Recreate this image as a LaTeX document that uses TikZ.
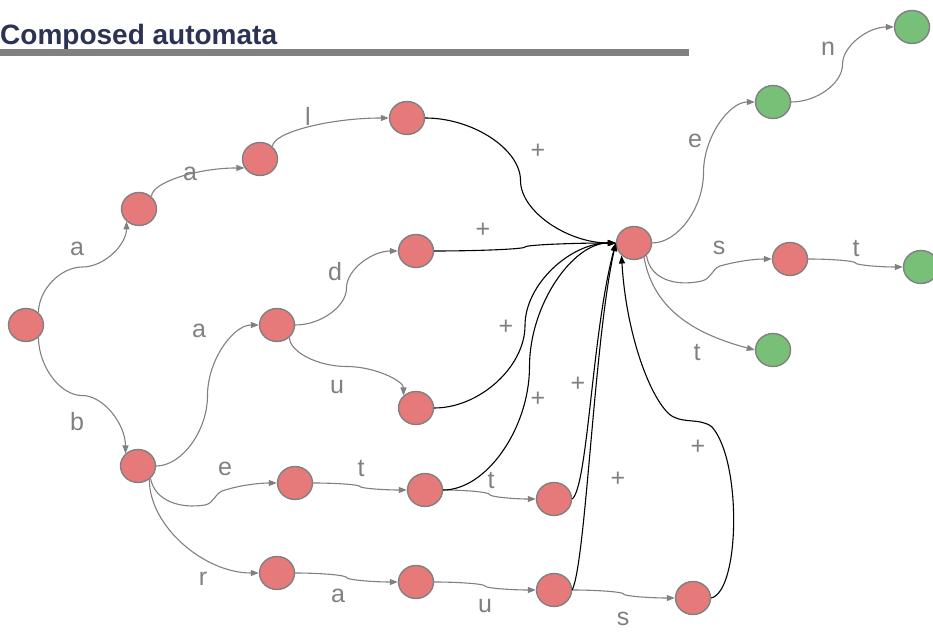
\documentclass[tikz,border=0pt]{standalone}
\usepackage{fontspec}
\setmainfont{Liberation Sans}
\usetikzlibrary{shapes.geometric,arrows.meta,calc}

\definecolor{redfill}{RGB}{230,122,122}
\definecolor{greenfill}{RGB}{120,192,120}
\definecolor{rimgray}{RGB}{128,128,128}
\definecolor{edgegray}{RGB}{128,128,128}
\definecolor{titleblue}{RGB}{44,50,84}
\definecolor{bargray}{RGB}{128,128,128}

\tikzset{
  state/.style={ellipse, draw=rimgray, line width=1.4pt,
    minimum width=35pt, minimum height=33pt, inner sep=0pt},
  rs/.style={state, fill=redfill},
  gs/.style={state, fill=greenfill},
  tip/.style={-{Triangle[length=8pt,width=6pt]}},
  gedge/.style={draw=edgegray, line width=1.1pt, tip},
  bedge/.style={draw=black, line width=1.1pt, tip},
  lbl/.style={text=edgegray, font=\fontsize{25}{25}\selectfont, inner sep=0pt},
  % horizontal start and end, vertical turn half way
  hh/.style={to path={let \p1=(\tikztostart), \p2=(\tikztotarget) in
    .. controls ({(3*\x1+\x2)/4},\y1) and ({(\x1+\x2)/2},{(3*\y1+\y2)/4})
    .. ({(\x1+\x2)/2},{(\y1+\y2)/2})
    .. controls ({(\x1+\x2)/2},{(\y1+3*\y2)/4}) and ({(\x1+3*\x2)/4},\y2)
    .. (\tikztotarget) \tikztonodes}},
  % vertical start and end, horizontal turn half way
  vv/.style={to path={let \p1=(\tikztostart), \p2=(\tikztotarget) in
    .. controls (\x1,{(3*\y1+\y2)/4}) and ({(3*\x1+\x2)/4},{(\y1+\y2)/2})
    .. ({(\x1+\x2)/2},{(\y1+\y2)/2})
    .. controls ({(\x1+3*\x2)/4},{(\y1+\y2)/2}) and (\x2,{(\y1+3*\y2)/4})
    .. (\tikztotarget) \tikztonodes}},
  % vertical start, horizontal end
  vh/.style={to path={let \p1=(\tikztostart), \p2=(\tikztotarget) in
    .. controls (\x1,{(\y1+\y2)/2}) and ({(\x1+\x2)/2},\y2)
    .. (\tikztotarget) \tikztonodes}},
}

\begin{document}
\begin{tikzpicture}[x=1pt,y=1pt]
\useasboundingbox (0,0) rectangle (933,631);

% heading
\node[anchor=base west, inner sep=0pt, text=titleblue,
  font=\bfseries\fontsize{28}{30}\selectfont] (title) at (0,586) {Composed automata};
\fill[bargray] (0,575) rectangle (689,582);

% states
\node[rs] (n0) at (26,306) {};
\node[rs] (A1) at (139,422) {};
\node[rs] (A2) at (260,472) {};
\node[rs] (A3) at (407,513) {};
\node[rs] (B)  at (138,165) {};
\node[rs] (C)  at (277,306) {};
\node[rs] (D)  at (416,380) {};
\node[rs] (U)  at (416,223) {};
\node[rs] (E)  at (295,148) {};
\node[rs] (T1) at (425,141) {};
\node[rs] (T2) at (554,132) {};
\node[rs] (R)  at (277,58) {};
\node[rs] (RA) at (416,49) {};
\node[rs] (RU) at (554,41) {};
\node[rs] (RS) at (693,33) {};
\node[rs] (H)  at (634,388) {};
\node[gs] (G1) at (773,529) {};
\node[gs] (G2) at (912,604) {};
\node[rs] (S)  at (790,372) {};
\node[gs] (G3) at (921,364) {};
\node[gs] (G4) at (773,281) {};

% letter transitions
\draw[gedge] (n0.45) to[vv] (A1.225);
\draw[gedge] (n0.-45) to[vv] (B.135);
\draw[gedge] (A1.45) to[vh] (A2.210);
\draw[gedge] (A2.45) to[vh] (A3.west);
\draw[gedge] (B.east) to[hh] (C.west);
\draw[gedge] (C.east) to[hh] (D.west);
\draw[gedge] (C.-45) to[vv] (U.135);
\draw[gedge] (B.-45) .. controls (155,130) and (180,122) .. (205,126)
  .. controls (214,128) and (214,136) .. (222,140)
  .. controls (240,146) and (260,148) .. (E.west);
\draw[gedge] (B.-50) to[vh] (R.west);
\draw[gedge] (E.east) to[hh] (T1.west);
\draw[gedge] (T1.east) to[hh] (T2.west);
\draw[gedge] (R.east) to[hh] (RA.west);
\draw[gedge] (RA.east) to[hh] (RU.west);
\draw[gedge] (RU.east) to[hh] (RS.west);
\draw[gedge] (H.east) to[hh] (G1.west);
\draw[gedge] (G1.east) to[hh] (G2.west);
\draw[gedge] (H.-45) .. controls (650,352) and (675,344) .. (702,350)
  .. controls (712,353) and (711,361) .. (720,365)
  .. controls (738,370) and (755,372) .. (S.west);
\draw[gedge] (S.east) to[hh] (G3.west);
\draw[gedge] (H.-55) to[out=-80,in=165] (G4.west);

% "+" transitions into the shared state
\draw[bedge] (A3.east) to[hh] (H.west);
\draw[bedge] (D.east) to[hh] (H.west);
\draw[bedge] (U.east) to[hh] (H.west);
\draw[bedge] (T1.east) to[hh] (H.west);
\draw[bedge] (T2.east) .. controls (588,145) and (592,300) .. (H.west);
\draw[bedge] (RU.east) .. controls (586,70) and (594,290) .. (H.west);
\draw[bedge] (RS.east) .. controls (740,40) and (742,170) .. (712,204)
  .. controls (700,214) and (680,206) .. (668,218)
  .. controls (648,238) and (626,300) .. (H.225);

% labels
\node[lbl] (la1) at (77,382) {a};
\node[lbl] (lb)  at (77,209) {b};
\node[lbl] (la2) at (190,457) {a};
\node[lbl] (ll)  at (308,515) {l};
\node[lbl] (lp1) at (538,480) {+};
\node[lbl] (la3) at (199,300) {a};
\node[lbl] (ld)  at (335,359) {d};
\node[lbl] (lu)  at (337,244) {u};
\node[lbl] (lp2) at (483,401) {+};
\node[lbl] (lp3) at (506,304) {+};
\node[lbl] (le)  at (225,162) {e};
\node[lbl] (lt1) at (361,162) {t};
\node[lbl] (lp4) at (538,232) {+};
\node[lbl] (lt2) at (491,150) {t};
\node[lbl] (lp5) at (578,247) {+};
\node[lbl] (lr)  at (203,52) {r};
\node[lbl] (la4) at (338,35) {a};
\node[lbl] (lu2) at (485,25) {u};
\node[lbl] (ls)  at (623,12) {s};
\node[lbl] (lp6) at (618,152) {+};
\node[lbl] (lp7) at (698,184) {+};
\node[lbl] (le2) at (695,490) {e};
\node[lbl] (ln)  at (828,582) {n};
\node[lbl] (ls2) at (719,383) {s};
\node[lbl] (lt3) at (856,382) {t};
\node[lbl] (lt4) at (697,278) {t};
\end{tikzpicture}
\end{document}
